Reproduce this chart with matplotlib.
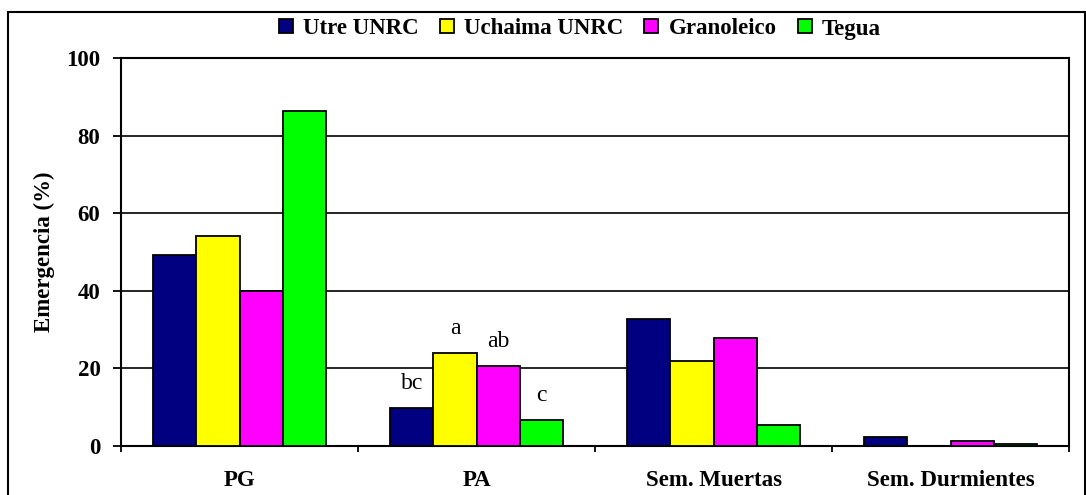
import numpy as np
import matplotlib.pyplot as plt
from matplotlib.patches import Rectangle
from matplotlib.ticker import FixedLocator

plt.rcParams['font.family'] = ['Liberation Serif', 'DejaVu Serif']

# datos
categorias = ['PG', 'PA', 'Sem. Muertas', 'Sem. Durmientes']
variedades = ['Utre UNRC', 'Uchaima UNRC', 'Granoleico', 'Tegua']
utre = [49.3, 9.8, 32.7, 2.3]
uchaima = [54.2, 24.0, 21.8, 0.0]
granoleico = [40.0, 20.5, 27.8, 1.3]
tegua = [86.3, 6.8, 5.4, 0.5]
letras_pa = ['bc', 'a', 'ab', 'c']

colores = ['#000080', '#FFFF00', '#FF00FF', '#00FF00']

fig = plt.figure(figsize=(10.86, 4.95), dpi=100)
ax = fig.add_axes([121 / 1086, 1 - 446 / 495, (1069 - 121) / 1086, (446 - 58) / 495])

series = [utre, uchaima, granoleico, tegua]
x = np.arange(len(categorias))
ancho = 0.182
for i, (vals, col, nombre) in enumerate(zip(series, colores, variedades)):
    pos = x + (i - 1.5) * ancho
    ax.bar(pos, vals, width=ancho, color=col, edgecolor='black',
           linewidth=1.3, label=nombre, zorder=3)
    # letras de significancia en PA
    ax.text(pos[1], vals[1] + 3.6, letras_pa[i], ha='center', va='bottom',
            fontsize=17, zorder=4)

ax.set_xlim(-0.5, len(categorias) - 0.5)
ax.set_ylim(0, 100)
ax.set_yticks([0, 20, 40, 60, 80, 100])
ax.yaxis.grid(True, color='black', linewidth=1.2, zorder=0)
ax.set_axisbelow(True)

ax.set_xticks(x)
ax.set_xticklabels(categorias, fontsize=16.5, fontweight='bold')
ax.xaxis.set_minor_locator(FixedLocator(np.arange(len(categorias) + 1) - 0.5))
ax.tick_params(axis='x', which='major', length=0, pad=17)
ax.tick_params(axis='x', which='minor', length=4.5, width=1.3, direction='out')
ax.tick_params(axis='y', length=5.8, width=1.3, pad=9, labelsize=16.5)
for lab in ax.get_yticklabels():
    lab.set_fontweight('bold')

ax.set_ylabel('Emergencia (%)', fontsize=16.5, fontweight='bold', va='center')
ax.yaxis.set_label_coords((44 - 121) / 948, 0.5)

for s in ax.spines.values():
    s.set_linewidth(1.5)
    s.set_color('black')

fig.legend(loc='center', bbox_to_anchor=(580 / 1086, 1 - 29 / 495), ncol=4,
           frameon=False, prop={'weight': 'bold', 'size': 16.5},
           handlelength=0.61, handleheight=0.57, handletextpad=0.44,
           columnspacing=0.92)

# marco exterior
fig.patches.append(Rectangle((8 / 1086, -0.1), (1085 - 8) / 1086, 1.1 - 12 / 495,
                             transform=fig.transFigure, fill=False,
                             edgecolor='black', linewidth=1.5))

fig.savefig('out.png', dpi=100)
